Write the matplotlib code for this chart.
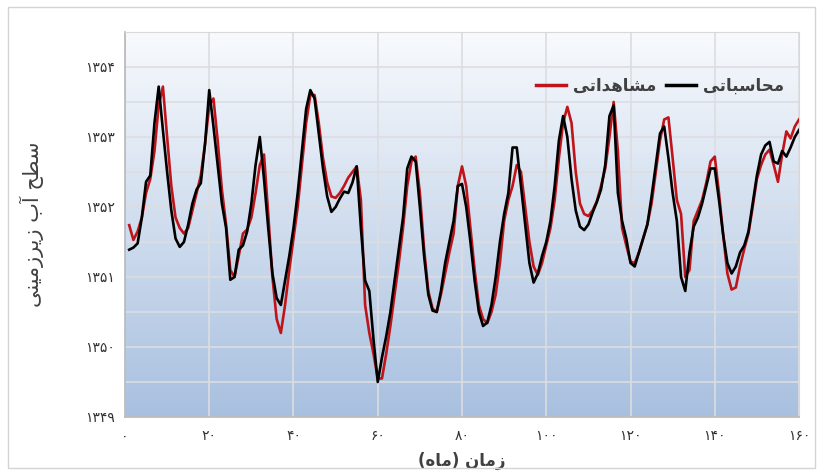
import numpy as np
import matplotlib
matplotlib.use("Agg")
import matplotlib.pyplot as plt
from matplotlib.patches import Rectangle

# months 1..160
months = list(range(1, 161))

# observed groundwater level (red)
observed = [
    1351.74, 1351.53, 1351.65, 1351.85, 1352.20, 1352.40, 1352.80, 1353.45, 1353.72, 1353.00,
    1352.30, 1351.85, 1351.70, 1351.62, 1351.70, 1351.95, 1352.20, 1352.45, 1352.90, 1353.45,
    1353.55, 1352.95, 1352.25, 1351.75, 1351.10, 1351.00, 1351.30, 1351.62, 1351.68, 1351.85,
    1352.20, 1352.60, 1352.75, 1351.90, 1351.00, 1350.40, 1350.20, 1350.60, 1351.10, 1351.55,
    1352.00, 1352.60, 1353.20, 1353.60, 1353.60, 1353.20, 1352.70, 1352.35, 1352.15, 1352.13,
    1352.20, 1352.30, 1352.42, 1352.50, 1352.58, 1352.10, 1350.60, 1350.20, 1349.90, 1349.55,
    1349.55, 1349.90, 1350.30, 1350.75, 1351.20, 1351.70, 1352.30, 1352.65, 1352.72, 1352.20,
    1351.40, 1350.80, 1350.55, 1350.50, 1350.75, 1351.05, 1351.35, 1351.62, 1352.30, 1352.58,
    1352.30, 1351.70, 1351.10, 1350.60, 1350.40, 1350.34, 1350.50, 1350.75, 1351.20, 1351.80,
    1352.10, 1352.30, 1352.60, 1352.50, 1352.00, 1351.50, 1351.15, 1351.03, 1351.20, 1351.45,
    1351.70, 1352.10, 1352.70, 1353.20, 1353.43, 1353.20, 1352.50, 1352.05, 1351.90, 1351.87,
    1351.95, 1352.08, 1352.30, 1352.55, 1353.00, 1353.50, 1352.80, 1351.70, 1351.45, 1351.22,
    1351.20, 1351.35, 1351.55, 1351.75, 1352.05, 1352.50, 1352.95, 1353.25, 1353.28, 1352.70,
    1352.10, 1351.90, 1351.00, 1351.10, 1351.80, 1351.95, 1352.10, 1352.35, 1352.65, 1352.72,
    1352.20, 1351.60, 1351.05, 1350.82, 1350.85, 1351.15, 1351.40, 1351.62, 1352.00, 1352.40,
    1352.60, 1352.75, 1352.82, 1352.60, 1352.36, 1352.75, 1353.08, 1352.98, 1353.15, 1353.25,
]

# computed groundwater level (black)
computed = [
    1351.39, 1351.42, 1351.48, 1351.85, 1352.36, 1352.45, 1353.20, 1353.72, 1353.10, 1352.50,
    1351.95, 1351.55, 1351.43, 1351.50, 1351.75, 1352.05, 1352.25, 1352.34, 1352.90, 1353.67,
    1353.15, 1352.60, 1352.05, 1351.70, 1350.96, 1351.00, 1351.39, 1351.45, 1351.65, 1352.05,
    1352.60, 1353.00, 1352.40, 1351.70, 1351.05, 1350.70, 1350.60, 1350.95, 1351.30, 1351.70,
    1352.20, 1352.80, 1353.40, 1353.67, 1353.55, 1353.05, 1352.55, 1352.15, 1351.93, 1352.00,
    1352.12, 1352.22, 1352.20, 1352.35, 1352.58, 1351.70, 1350.95, 1350.80, 1350.10, 1349.50,
    1349.85, 1350.15, 1350.50, 1350.95, 1351.39, 1351.85, 1352.55, 1352.72, 1352.65, 1352.00,
    1351.30, 1350.75, 1350.52, 1350.50, 1350.80, 1351.20, 1351.50, 1351.80, 1352.30, 1352.33,
    1352.00, 1351.50, 1350.95, 1350.50, 1350.30, 1350.35, 1350.60, 1351.00, 1351.50, 1351.90,
    1352.20, 1352.85, 1352.85, 1352.30, 1351.75, 1351.20, 1350.92, 1351.05, 1351.30, 1351.50,
    1351.80, 1352.30, 1352.95, 1353.30, 1353.00, 1352.40, 1351.95, 1351.72, 1351.67, 1351.75,
    1351.92, 1352.07, 1352.25, 1352.60, 1353.30, 1353.45, 1352.20, 1351.80, 1351.55, 1351.20,
    1351.15, 1351.35, 1351.55, 1351.75, 1352.15, 1352.60, 1353.05, 1353.15, 1352.70, 1352.20,
    1351.80, 1351.00, 1350.80, 1351.35, 1351.72, 1351.85, 1352.05, 1352.30, 1352.55, 1352.55,
    1352.10, 1351.60, 1351.20, 1351.05, 1351.15, 1351.35, 1351.45, 1351.65, 1352.05, 1352.45,
    1352.75, 1352.88, 1352.93, 1352.65, 1352.62, 1352.80, 1352.72, 1352.85, 1353.00, 1353.10,
]

x_ticks = [0, 20, 40, 60, 80, 100, 120, 140, 160]
y_ticks = [1349, 1350, 1351, 1352, 1353, 1354]

ylabel_text = "سطح آب زیرزمینی"
xlabel_text = "زمان (ماه)"
label_observed = "مشاهداتی"
label_computed = "محاسباتی"

# presentation forms: iso, fin, ini, med (right-joining letters have only two)
FORMS = {
    "ا": ("\uFE8D", "\uFE8E"),
    "آ": ("\uFE81", "\uFE82"),
    "د": ("\uFEA9", "\uFEAA"),
    "ر": ("\uFEAD", "\uFEAE"),
    "ز": ("\uFEAF", "\uFEB0"),
    "ب": ("\uFE8F", "\uFE90", "\uFE91", "\uFE92"),
    "ت": ("\uFE95", "\uFE96", "\uFE97", "\uFE98"),
    "ح": ("\uFEA1", "\uFEA2", "\uFEA3", "\uFEA4"),
    "س": ("\uFEB1", "\uFEB2", "\uFEB3", "\uFEB4"),
    "ش": ("\uFEB5", "\uFEB6", "\uFEB7", "\uFEB8"),
    "ط": ("\uFEC1", "\uFEC2", "\uFEC3", "\uFEC4"),
    "م": ("\uFEE1", "\uFEE2", "\uFEE3", "\uFEE4"),
    "ن": ("\uFEE5", "\uFEE6", "\uFEE7", "\uFEE8"),
    "ه": ("\uFEE9", "\uFEEA", "\uFEEB", "\uFEEC"),
    "ی": ("\uFEEF", "\uFEF0", "\uFEF3", "\uFEF4"),
}
MIRROR = {"(": ")", ")": "("}


def fa(text):
    # shape persian letters and put them in visual (left to right) order
    out = []
    for i, ch in enumerate(text):
        if ch not in FORMS:
            out.append(MIRROR.get(ch, ch))
            continue
        prev = text[i - 1] if i > 0 else ""
        nxt = text[i + 1] if i + 1 < len(text) else ""
        join_prev = prev in FORMS and len(FORMS[prev]) == 4
        join_next = len(FORMS[ch]) == 4 and nxt in FORMS
        f = FORMS[ch]
        if join_prev and join_next:
            out.append(f[3])
        elif join_prev:
            out.append(f[1])
        elif join_next:
            out.append(f[2])
        else:
            out.append(f[0])
    return "".join(reversed(out))


def fa_digits(n):
    return str(n).translate(str.maketrans("0123456789", "۰۱۲۳۴۵۶۷۸۹"))


plt.rcParams["font.family"] = ["DejaVu Sans"]

fig = plt.figure(figsize=(8.25, 4.74), dpi=100)
fig.patch.set_facecolor("white")
fig.patches.append(Rectangle((0.01, 0.012), 0.978, 0.973, transform=fig.transFigure,
                             fill=False, edgecolor="#d4d4d4", linewidth=1.0))

ax = fig.add_axes([0.1515, 0.1203, 0.817, 0.8122])

# background gradient white -> light steel blue
top = np.array([248, 250, 253]) / 255
bot = np.array([168, 192, 223]) / 255
t = np.linspace(0, 1, 256)[:, None]
grad = (top * (1 - t) + bot * t)[:, None, :]
ax.imshow(grad, extent=[0, 160, 1349, 1354.5], aspect="auto", zorder=0)

ax.set_xlim(0, 160)
ax.set_ylim(1349, 1354.5)

ax.set_xticks(x_ticks)
ax.set_xticklabels([fa_digits(v) for v in x_ticks])
ax.set_yticks(y_ticks)
ax.set_yticklabels([fa_digits(v) for v in y_ticks])
ax.set_yticks(np.arange(1349.5, 1354.5, 1.0), minor=True)
ax.tick_params(which="both", length=0)
ax.tick_params(axis="x", pad=9, labelsize=10, labelcolor="#333333")
ax.tick_params(axis="y", pad=7, labelsize=10, labelcolor="#333333")
ax.grid(True, which="both", color="#dcdde0", linewidth=1.2, zorder=1)
ax.set_axisbelow(True)

for side in ["top", "right"]:
    ax.spines[side].set_color("#d8d8d8")
for side in ["left", "bottom"]:
    ax.spines[side].set_color("#b8b8b8")
    ax.spines[side].set_linewidth(1.2)

ax.plot(months, observed, color="#c0141b", linewidth=1.9, zorder=3,
        solid_joinstyle="round", label=fa(label_observed))
ax.plot(months, computed, color="#000000", linewidth=1.9, zorder=4,
        solid_joinstyle="round", label=fa(label_computed))

ax.set_ylabel(fa(ylabel_text), fontsize=15, color="#404040", labelpad=30)
ax.set_xlabel(fa(xlabel_text), fontsize=12, fontweight="bold", color="#404040", labelpad=6)

leg = ax.legend(loc="center right", bbox_to_anchor=(1.0, 0.86), ncol=2, frameon=False,
                handlelength=1.8, columnspacing=0.6, handletextpad=0.4,
                prop={"size": 12, "weight": "bold"})
for txt in leg.get_texts():
    txt.set_color("#404040")
for line in leg.get_lines():
    line.set_linewidth(2.5)

fig.savefig("out.png", dpi=100)
